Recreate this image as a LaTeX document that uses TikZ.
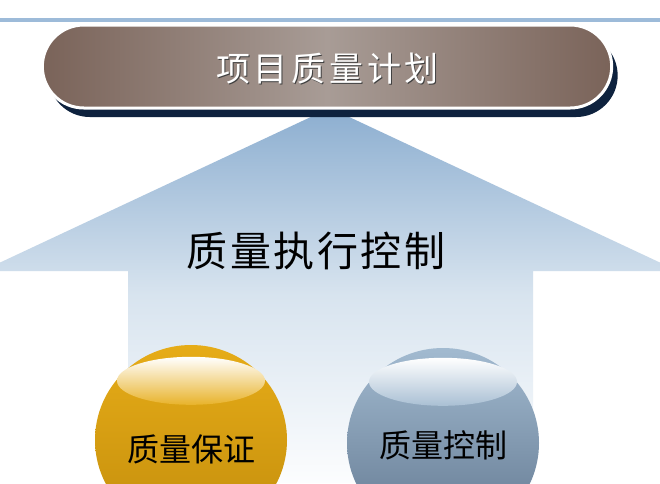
\documentclass[tikz,border=0pt]{standalone}
\usepackage{fontspec}
\newfontfamily\cjk{Noto Sans CJK SC}
\usetikzlibrary{shapes.geometric,shapes.misc,shadows}
\definecolor{barblue}{RGB}{157,187,217}
\definecolor{pillbrown}{RGB}{122,99,89}
\definecolor{pilllight}{RGB}{168,156,150}
\definecolor{navy}{RGB}{14,34,62}
\definecolor{arrowtop}{RGB}{140,174,208}
\definecolor{arrowmid}{RGB}{216,228,239}
\definecolor{arrowlow}{RGB}{252,253,254}
\definecolor{goldtop}{RGB}{230,172,24}
\definecolor{goldlow}{RGB}{196,142,12}
\definecolor{slatetop}{RGB}{162,186,208}
\definecolor{slatelow}{RGB}{98,120,144}
\begin{document}
\begin{tikzpicture}[x=1pt,y=1pt,
    sphere/.style={ellipse,minimum width=192pt,minimum height=190pt,inner sep=0pt},
    gloss/.style={ellipse,minimum width=148pt,minimum height=48pt,inner sep=0pt},
    balltext/.style={font=\cjk\fontsize{32}{32}\selectfont,text=black}]
    \useasboundingbox (0,0) rectangle (660,-483);
    \fill[white] (0,0) rectangle (660,-483);
    \fill[barblue] (0,-18) rectangle (660,-21.5);
    % big arrow
    \shade[top color=arrowtop,bottom color=arrowlow,middle color=arrowmid]
        (330,-108) -- (678,-271) -- (533,-271) -- (533,-483)
        -- (128,-483) -- (128,-271) -- (-18,-271) -- cycle;
    \node[font=\cjk\fontsize{41}{41}\selectfont\addfontfeatures{LetterSpace=6}] (exec) at (316,-251) {质量执行控制};
    % title
    \node[rounded rectangle,minimum width=576pt,minimum height=83pt,draw=white,line width=3pt,
        left color=pillbrown,right color=pillbrown,middle color=pilllight,
        drop shadow={shadow xshift=6pt,shadow yshift=-9pt,fill=navy,opacity=1}] (title) at (327,-66.5) {};
    \node[font=\cjk\fontsize{34}{34}\selectfont\addfontfeatures{LetterSpace=11},text=black!75] at ([xshift=1.5pt,yshift=-3pt]title.center) {项目质量计划};
    \node[font=\cjk\fontsize{34}{34}\selectfont\addfontfeatures{LetterSpace=11},text=white] (titletext) at ([xshift=0.5pt,yshift=-2pt]title.center) {项目质量计划};
    % spheres
    \node[sphere,top color=goldtop,bottom color=goldlow] (qa) at (191,-440) {};
    \node[gloss,top color=white,bottom color=goldtop!92!white] (qagloss) at ([yshift=-36pt]qa.north) {};
    \node[balltext] (qatext) at ([yshift=-9pt]qa.center) {质量保证};
    \node[sphere,top color=slatetop,bottom color=slatelow] (qc) at (443,-443) {};
    \node[gloss,top color=white,bottom color=slatetop!92!white] (qcgloss) at ([yshift=-34pt]qc.north) {};
    \node[balltext] (qctext) at ([yshift=-2pt]qc.center) {质量控制};
\end{tikzpicture}
\end{document}
